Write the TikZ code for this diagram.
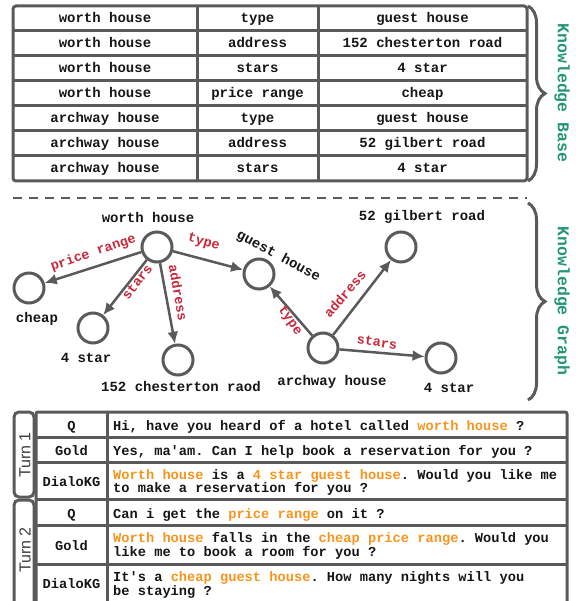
\documentclass[tikz,border=0pt]{standalone}
\usepackage{fontspec}
\setmainfont{Liberation Sans}
\setsansfont{Liberation Sans}
\setmonofont{Liberation Mono}
\usetikzlibrary{arrows.meta,decorations.pathreplacing}
\definecolor{lgrey}{RGB}{90,90,90}
\definecolor{kbteal}{RGB}{34,150,118}
\definecolor{relred}{RGB}{200,40,58}
\definecolor{hlorange}{RGB}{247,148,29}
\definecolor{txt}{RGB}{22,22,22}
\definecolor{turngrey}{RGB}{60,60,60}
\newcommand{\hl}[1]{\textcolor{hlorange}{#1}}
\begin{document}
\begin{tikzpicture}[x=1pt,y=-1pt,
  tbl/.style={draw=lgrey, line width=3pt},
  cell/.style={font=\ttfamily\bfseries\fontsize{14}{14}\selectfont, text=txt, anchor=base, inner sep=0pt},
  dcell/.style={font=\ttfamily\bfseries\fontsize{13.7}{13.6}\selectfont, text=txt, anchor=base west, inner sep=0pt, align=left},
  lcell/.style={font=\ttfamily\bfseries\fontsize{13.7}{13.7}\selectfont, text=txt, anchor=base, inner sep=0pt},
  ent/.style={circle, draw=lgrey, line width=3pt, minimum size=30pt, inner sep=0pt},
  rel/.style={draw=lgrey, line width=2.5pt, -{Latex[length=12pt,width=11pt]}},
  elab/.style={font=\ttfamily\bfseries\fontsize{14}{14}\selectfont, text=txt, inner sep=0pt, text height=10pt, text depth=0pt},
  rlab/.style={font=\ttfamily\bfseries\fontsize{13.5}{13.5}\selectfont, text=relred, inner sep=0pt, text height=9pt, text depth=0pt},
  kbl/.style={font=\ttfamily\bfseries\fontsize{16.5}{16.5}\selectfont, text=kbteal, inner sep=0pt, rotate=-90},
  brc/.style={draw=lgrey, line width=3pt, decorate, decoration={brace, amplitude=17pt}},
  turn/.style={font=\sffamily\fontsize{16}{16}\selectfont, text=turngrey, inner sep=0pt, rotate=90}
]
\useasboundingbox (0,0) rectangle (575,601);
\clip (0,0) rectangle (575,601);

% ---------- Knowledge base table ----------
\draw[tbl, rounded corners=3pt] (13,6) rectangle (527,181);
\foreach \y in {31,56,81,106,131,156} \draw[tbl] (13,\y) -- (527,\y);
\draw[tbl] (197,6) -- (197,181);
\draw[tbl] (318,6) -- (318,181);
\foreach \a/\b/\c [count=\i] in {
  worth house/type/guest house,
  worth house/address/152 chesterton road,
  worth house/stars/4 star,
  worth house/price range/cheap,
  archway house/type/guest house,
  archway house/address/52 gilbert road,
  archway house/stars/4 star}{
  \node[cell] (kbh\i) at (105,{23+25*(\i-1)}) {\a};
  \node[cell] (kbr\i) at (257.5,{23+25*(\i-1)}) {\b};
  \node[cell] (kbt\i) at (422.5,{23+25*(\i-1)}) {\c};
}
\draw[brc] (528,6) -- (528,181);
\node[kbl] (kblab) at (562,93) {Knowledge Base};

\draw[lgrey, line width=2pt, dash pattern=on 9pt off 7pt] (13,198) -- (527,198);

% ---------- Knowledge graph ----------
\node[ent] (wh) at (157,247) {};
\node[ent] (ch) at (29,288) {};
\node[ent] (sa) at (93,328) {};
\node[ent] (ad) at (178,360) {};
\node[ent] (gh) at (259,274) {};
\node[ent] (gb) at (401,247) {};
\node[ent] (ah) at (323,348) {};
\node[ent] (sb) at (441,358) {};

\draw[rel] (wh) -- (ch);
\draw[rel] (wh) -- (sa);
\draw[rel] (wh) -- (ad);
\draw[rel] (wh) -- (gh);
\draw[rel] (ah) -- (gh);
\draw[rel] (ah) -- (gb);
\draw[rel] (ah) -- (sb);

\node[elab] (lwh) at (148,218) {worth house};
\node[elab] (lch) at (37,317) {cheap};
\node[elab] (lsa) at (86,357) {4 star};
\node[elab] (lad) at (181,386) {152 chesterton raod};
\node[elab] (lgb) at (422,216) {52 gilbert road};
\node[elab] (lah) at (332,380) {archway house};
\node[elab] (lsb) at (449,387) {4 star};
\node[elab, rotate=-28] (lgh) at (279,255) {guest house};

\node[rlab, rotate=19] (rpr) at (93,252) {price range};
\node[rlab, rotate=-16] (rty1) at (204,241) {type};
\node[rlab, rotate=52] (rst1) at (137,282) {stars};
\node[rlab, rotate=-80] (rad1) at (178,293) {address};
\node[rlab, rotate=-55] (rty2) at (291,320) {type};
\node[rlab, rotate=49] (rad2) at (345,294) {address};
\node[rlab, rotate=-8] (rst2) at (377,342) {stars};

\draw[brc] (528,203) -- (528,400);
\node[kbl] (kglab) at (562,301) {Knowledge Graph};

% ---------- Dialogue table ----------
\draw[tbl, rounded corners=2pt] (36,412) rectangle (567,620);
\foreach \y in {437,462,499,525,564} \draw[tbl] (36,\y) -- (567,\y);
\draw[tbl] (107,412) -- (107,620);
\draw[tbl, rounded corners=5pt] (14,412) rectangle (34,497);
\draw[tbl, rounded corners=5pt] (14,500) rectangle (34,620);
\node[turn] (t1) at (25,455) {Turn 1};
\node[turn] (t2) at (25,550) {Turn 2};

\node[lcell] (lq1) at (71.5,430) {Q};
\node[lcell] (lg1) at (71.5,455) {Gold};
\node[lcell] (ld1) at (71.5,486) {DialoKG};
\node[lcell] (lq2) at (71.5,518) {Q};
\node[lcell] (lg2) at (71.5,550) {Gold};
\node[lcell] (ld2) at (71.5,588) {DialoKG};

\node[dcell] (q1) at (113,430) {Hi, have you heard of a hotel called \hl{worth house} ?};
\node[dcell] (g1) at (113,455) {Yes, ma'am. Can I help book a reservation for you ?};
\node[dcell] (d1) at (113,492.6) {\hl{Worth house} is a \hl{4 star guest house}. Would you like me\\to make a reservation for you ?};
\node[dcell] (q2) at (113,518) {Can i get the \hl{price range} on it ?};
\node[dcell] (g2) at (113,556.1) {\hl{Worth house} falls in the \hl{cheap price range}. Would you\\like me to book a room for you ?};
\node[dcell] (d2) at (113,595.1) {It's a \hl{cheap guest house}. How many nights will you\\be staying ?};
\end{tikzpicture}
\end{document}
